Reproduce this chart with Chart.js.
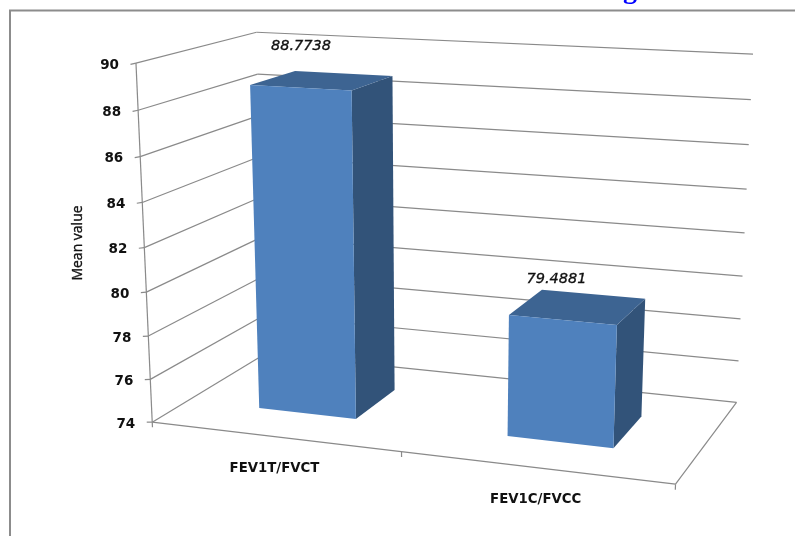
<!DOCTYPE html>
<html lang="en">
<head>
    <meta charset="UTF-8">
    <title>Mean value</title>
    <script src="https://cdn.jsdelivr.net/npm/chart.js"></script>
    <style>
        body { margin: 0; background: #fff; }
        canvas { display: block; }
    </style>
</head>
<body>
    <canvas id="chart" width="795" height="536"></canvas>

    <script>
        var categories = ['FEV1T/FVCT', 'FEV1C/FVCC'];
        var meanValues = [88.7738, 79.4881];
        var valueTicks = [74, 76, 78, 80, 82, 84, 86, 88, 90];
        var axisTitle = 'Mean value';

        // camera of the 3D box, u along categories, v along values, w into the page
        var camX = [152.2342, 462.4235, -23.5903, 145.3789];
        var camY = [422.1384, 18.4270, -362.4270, -25.2635];
        var camD = [-0.0901, -0.0539, 0.1220];
        var depthFront = 0.3, depthBack = 0.7;

        function project(u, v, w) {
            var d = 1 + camD[0] * u + camD[1] * v + camD[2] * w;
            return {
                x: (camX[0] + camX[1] * u + camX[2] * v + camX[3] * w) / d,
                y: (camY[0] + camY[1] * u + camY[2] * v + camY[3] * w) / d
            };
        }

        function line(ctx, a, b) {
            ctx.beginPath();
            ctx.moveTo(a.x, a.y);
            ctx.lineTo(b.x, b.y);
            ctx.stroke();
        }

        function face(ctx, pts, color) {
            ctx.fillStyle = color;
            ctx.beginPath();
            pts.forEach(function (p, i) {
                if (i === 0) ctx.moveTo(p.x, p.y);
                else ctx.lineTo(p.x, p.y);
            });
            ctx.closePath();
            ctx.fill();
        }

        function text(ctx, str, x, y, font, align, heavy) {
            ctx.font = font;
            ctx.textAlign = align || 'center';
            ctx.textBaseline = 'middle';
            ctx.fillStyle = '#111';
            ctx.fillText(str, x, y);
            if (heavy) {
                // the source text is a bit heavier than the regular cut
                ctx.strokeStyle = '#111';
                ctx.lineWidth = heavy;
                ctx.strokeText(str, x, y);
            }
        }

        var box3d = {
            id: 'box3d',
            beforeDraw: function (chart) {
                var ctx = chart.ctx;
                ctx.save();
                // outer frame, runs off the right and bottom of the picture
                ctx.strokeStyle = '#8c8c8c';
                ctx.lineWidth = 2;
                ctx.beginPath();
                ctx.moveTo(10, 536);
                ctx.lineTo(10, 10.5);
                ctx.lineTo(795, 10.5);
                ctx.stroke();
                // all that shows of the cropped page title
                ctx.fillStyle = '#0000ff';
                ctx.font = 'bold 28px "Liberation Serif"';
                ctx.textAlign = 'center';
                ctx.textBaseline = 'alphabetic';
                ctx.fillText('g', 630, -2);
                ctx.restore();
            },
            afterDatasetsDraw: function (chart) {
                var ctx = chart.ctx, y = chart.scales.y, x = chart.scales.x;
                ctx.save();

                // walls and floor
                valueTicks.forEach(function (val) {
                    var v = y.getDecimalForPixel(y.getPixelForValue(val));
                    var front = project(0, v, 0);
                    ctx.strokeStyle = '#8a8a8a';
                    ctx.lineWidth = 1.2;
                    line(ctx, front, project(0, v, 1));
                    line(ctx, project(0, v, 1), project(1, v, 1));
                    line(ctx, front, { x: front.x - 5.5, y: front.y + 1.3 * v });
                    text(ctx, String(val), front.x - 17, front.y + 2, 'bold 13.5px "DejaVu Sans"', 'right');
                });
                ctx.strokeStyle = '#8a8a8a';
                ctx.lineWidth = 1.2;
                line(ctx, project(0, 0, 0), project(0, 1, 0));
                line(ctx, project(0, 0, 0), project(1, 0, 0));
                line(ctx, project(1, 0, 0), project(1, 0, 1));
                [0, 0.5, 1].forEach(function (u) {
                    line(ctx, project(u, 0, 0), project(u, -0.015, 0));
                });

                // bars, placed from the elements Chart.js laid out
                chart.getDatasetMeta(0).data.forEach(function (bar, i) {
                    var u0 = x.getDecimalForPixel(bar.x - bar.width / 2);
                    var u1 = x.getDecimalForPixel(bar.x + bar.width / 2);
                    var v = y.getDecimalForPixel(bar.y);
                    var fbl = project(u0, 0, depthFront), fbr = project(u1, 0, depthFront);
                    var ftl = project(u0, v, depthFront), ftr = project(u1, v, depthFront);
                    var bbr = project(u1, 0, depthBack);
                    var btl = project(u0, v, depthBack), btr = project(u1, v, depthBack);
                    face(ctx, [fbr, ftr, btr, bbr], '#325379');
                    face(ctx, [ftl, ftr, btr, btl], '#3d6492');
                    face(ctx, [fbl, fbr, ftr, ftl], '#4f81bd');

                    var mid = project((u0 + u1) / 2, v, depthFront);
                    text(ctx, meanValues[i].toFixed(4), mid.x - 9.8 + 11.2 * v, mid.y - 41, 'italic 14.5px "DejaVu Sans"', 'center', 0.35);

                    var foot = project(x.getDecimalForPixel(x.getPixelForValue(i)), 0, 0);
                    text(ctx, categories[i], foot.x + 0.5, foot.y + 31.5, 'bold 13.3px "DejaVu Sans"');
                });

                ctx.translate(78, 243);
                ctx.rotate(-Math.PI / 2);
                text(ctx, axisTitle, 0, 0, '14px "Open Sans"', 'center', 0.35);
                ctx.restore();
            }
        };

        new Chart(document.getElementById('chart'), {
            type: 'bar',
            data: {
                labels: categories,
                datasets: [{
                    data: meanValues,
                    backgroundColor: 'transparent',
                    categoryPercentage: 1,
                    barPercentage: 0.4
                }]
            },
            options: {
                responsive: false,
                animation: false,
                layout: { padding: 0 },
                plugins: { legend: { display: false }, tooltip: { enabled: false } },
                scales: {
                    x: { display: false },
                    y: { display: false, min: 74, max: 90 }
                }
            },
            plugins: [box3d]
        });
    </script>
</body>
</html>
